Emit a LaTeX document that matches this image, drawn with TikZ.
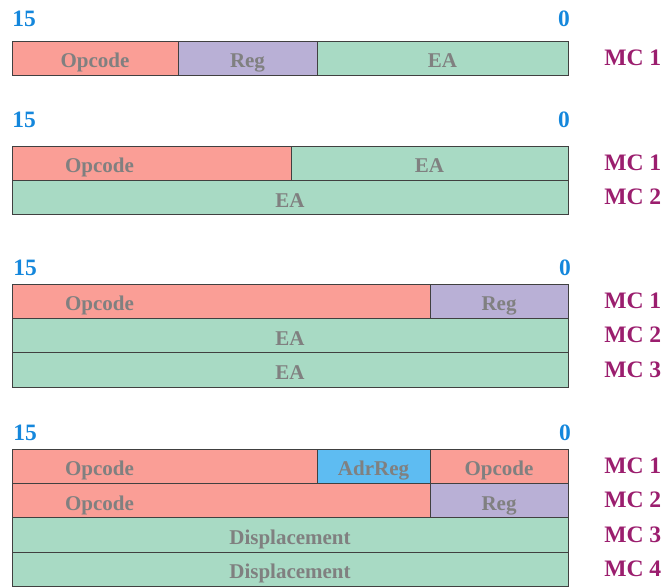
\documentclass[tikz,border=0pt]{standalone}
\usepackage{fontspec}
\setmainfont{Liberation Serif}
\usepackage{tikz}
\usetikzlibrary{positioning}

\definecolor{opcfill}{RGB}{250,158,150}
\definecolor{regfill}{RGB}{185,176,214}
\definecolor{eafill}{RGB}{168,218,196}
\definecolor{adrfill}{RGB}{94,188,242}
\definecolor{bitblue}{RGB}{20,135,220}
\definecolor{mcpurple}{RGB}{155,30,110}

\begin{document}
\begin{tikzpicture}[
    x=0.75pt, y=-0.75pt,
    field/.style={rectangle, draw=black!75, line width=0.75pt, outer sep=0pt, inner sep=0pt,
        minimum height=25.8pt, text height=15pt, text depth=0.8pt,
        text=black!50, font=\fontsize{15.75}{18}\selectfont\bfseries},
    opcode/.style={field, fill=opcfill},
    opleft/.style={opcode, align=left, inner xsep=39.75pt, text width=#1},
    reg/.style={field, fill=regfill},
    ea/.style={field, fill=eafill},
    adrreg/.style={field, fill=adrfill},
    bit/.style={inner sep=0pt, text=bitblue, font=\fontsize{17.6}{20}\selectfont\bfseries},
    mc/.style={inner sep=0pt, anchor=west, text height=12pt, text depth=1.5pt,
        text=mcpurple, font=\fontsize{17.7}{20}\selectfont\bfseries}
]
\useasboundingbox (0,0) rectangle (670,586);

% Format 1
\node[bit, anchor=base west] (f1hi) at (12,26) {15};
\node[bit, anchor=base east] (f1lo) at (570,26) {0};
\node[opcode, minimum width=124.5pt, anchor=north west] (f1op) at (12,41) {Opcode};
\node[reg, minimum width=104.25pt, right=0pt of f1op] (f1reg) {Reg};
\node[ea, minimum width=188.25pt, right=0pt of f1reg] (f1ea) {EA};
\node[mc, right=27pt of f1ea] (f1mc1) {MC 1};

% Format 2
\node[bit, anchor=base west] (f2hi) at (12,127) {15};
\node[bit, anchor=base east] (f2lo) at (570,127) {0};
\node[opleft=129.75pt, anchor=north west] (f2op) at (12,146) {Opcode};
\node[ea, minimum width=207.75pt, right=0pt of f2op] (f2ea) {EA};
\node[ea, minimum width=417pt, anchor=north west] (f2ea2) at (f2op.south west) {EA};
\node[mc, right=27pt of f2ea] (f2mc1) {MC 1};
\node[mc, right=27pt of f2ea2] (f2mc2) {MC 2};

% Format 3
\node[bit, anchor=base west] (f3hi) at (13,275) {15};
\node[bit, anchor=base east] (f3lo) at (571,275) {0};
\node[opleft=234pt, anchor=north west] (f3op) at (12,284) {Opcode};
\node[reg, minimum width=103.5pt, right=0pt of f3op] (f3reg) {Reg};
\node[ea, minimum width=417pt, anchor=north west] (f3ea2) at (f3op.south west) {EA};
\node[ea, minimum width=417pt, anchor=north west] (f3ea3) at (f3ea2.south west) {EA};
\node[mc, right=27pt of f3reg] (f3mc1) {MC 1};
\node[mc, right=27pt of f3ea2] (f3mc2) {MC 2};
\node[mc, right=27pt of f3ea3] (f3mc3) {MC 3};

% Format 4
\node[bit, anchor=base west] (f4hi) at (13,440) {15};
\node[bit, anchor=base east] (f4lo) at (571,440) {0};
\node[opleft=149.25pt, anchor=north west] (f4op) at (12,449) {Opcode};
\node[adrreg, minimum width=84.75pt, right=0pt of f4op] (f4adr) {AdrReg};
\node[opcode, minimum width=103.5pt, right=0pt of f4adr] (f4op2) {Opcode};
\node[opleft=234pt, anchor=north west] (f4op3) at (f4op.south west) {Opcode};
\node[reg, minimum width=103.5pt, right=0pt of f4op3] (f4reg) {Reg};
\node[ea, minimum width=417pt, anchor=north west] (f4disp1) at (f4op3.south west) {Displacement};
\node[ea, minimum width=417pt, anchor=north west] (f4disp2) at (f4disp1.south west) {Displacement};
\node[mc, right=27pt of f4op2] (f4mc1) {MC 1};
\node[mc, right=27pt of f4reg] (f4mc2) {MC 2};
\node[mc, right=27pt of f4disp1] (f4mc3) {MC 3};
\node[mc, right=27pt of f4disp2] (f4mc4) {MC 4};

\end{tikzpicture}
\end{document}
